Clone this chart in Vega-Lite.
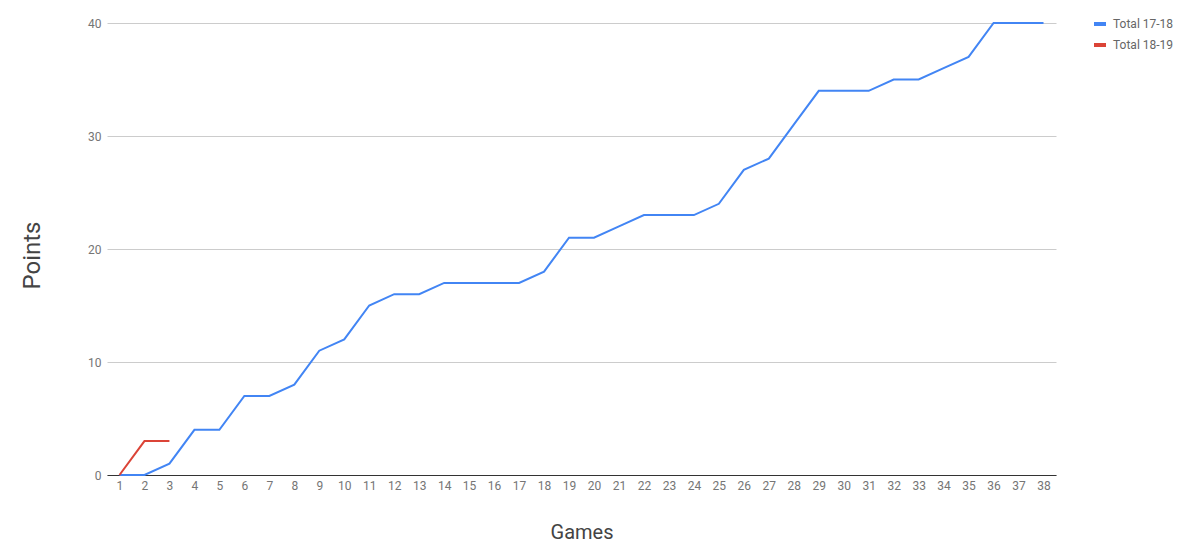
{
  "$schema": "https://vega.github.io/schema/vega-lite/v6.json",
  "width": 949,
  "height": 452,
  "autosize": {"type": "none"},
  "padding": {"left": 107, "top": 23, "right": 132, "bottom": 85},
  "background": "white",
  "config": {"font": "Roboto", "view": {"stroke": null}},
  "data": {"values": [
    {"game": 1, "points": 0, "series": "Total 17-18"},
    {"game": 2, "points": 0, "series": "Total 17-18"},
    {"game": 3, "points": 1, "series": "Total 17-18"},
    {"game": 4, "points": 4, "series": "Total 17-18"},
    {"game": 5, "points": 4, "series": "Total 17-18"},
    {"game": 6, "points": 7, "series": "Total 17-18"},
    {"game": 7, "points": 7, "series": "Total 17-18"},
    {"game": 8, "points": 8, "series": "Total 17-18"},
    {"game": 9, "points": 11, "series": "Total 17-18"},
    {"game": 10, "points": 12, "series": "Total 17-18"},
    {"game": 11, "points": 15, "series": "Total 17-18"},
    {"game": 12, "points": 16, "series": "Total 17-18"},
    {"game": 13, "points": 16, "series": "Total 17-18"},
    {"game": 14, "points": 17, "series": "Total 17-18"},
    {"game": 15, "points": 17, "series": "Total 17-18"},
    {"game": 16, "points": 17, "series": "Total 17-18"},
    {"game": 17, "points": 17, "series": "Total 17-18"},
    {"game": 18, "points": 18, "series": "Total 17-18"},
    {"game": 19, "points": 21, "series": "Total 17-18"},
    {"game": 20, "points": 21, "series": "Total 17-18"},
    {"game": 21, "points": 22, "series": "Total 17-18"},
    {"game": 22, "points": 23, "series": "Total 17-18"},
    {"game": 23, "points": 23, "series": "Total 17-18"},
    {"game": 24, "points": 23, "series": "Total 17-18"},
    {"game": 25, "points": 24, "series": "Total 17-18"},
    {"game": 26, "points": 27, "series": "Total 17-18"},
    {"game": 27, "points": 28, "series": "Total 17-18"},
    {"game": 28, "points": 31, "series": "Total 17-18"},
    {"game": 29, "points": 34, "series": "Total 17-18"},
    {"game": 30, "points": 34, "series": "Total 17-18"},
    {"game": 31, "points": 34, "series": "Total 17-18"},
    {"game": 32, "points": 35, "series": "Total 17-18"},
    {"game": 33, "points": 35, "series": "Total 17-18"},
    {"game": 34, "points": 36, "series": "Total 17-18"},
    {"game": 35, "points": 37, "series": "Total 17-18"},
    {"game": 36, "points": 40, "series": "Total 17-18"},
    {"game": 37, "points": 40, "series": "Total 17-18"},
    {"game": 38, "points": 40, "series": "Total 17-18"},
    {"game": 1, "points": 0, "series": "Total 18-19"},
    {"game": 2, "points": 3, "series": "Total 18-19"},
    {"game": 3, "points": 3, "series": "Total 18-19"}
  ]},
  "mark": {"type": "line", "strokeWidth": 2},
  "encoding": {
    "x": {
      "field": "game", "type": "ordinal",
      "scale": {"type": "point", "padding": 0.5},
      "axis": {
        "title": "Games", "titleFontSize": 20, "titleFontWeight": "normal", "titleColor": "#444",
        "titlePadding": 31, "labelAngle": 0, "labelFontSize": 12, "labelColor": "#757575",
        "labelPadding": 5, "ticks": false, "domainColor": "#333", "domainWidth": 1, "grid": false
      }
    },
    "y": {
      "field": "points", "type": "quantitative",
      "scale": {"domain": [0, 40], "nice": false},
      "axis": {
        "title": "Points", "titleFontSize": 24, "titleFontWeight": "normal", "titleColor": "#444",
        "titlePadding": 43, "titleY": 232, "values": [0, 10, 20, 30, 40], "labelFontSize": 12, "labelColor": "#757575",
        "labelPadding": 6, "ticks": false, "domain": false, "gridColor": "#ccc", "gridWidth": 1
      }
    },
    "color": {
      "field": "series", "type": "nominal",
      "scale": {"domain": ["Total 17-18", "Total 18-19"], "range": ["#4285F4", "#DB4437"]},
      "legend": {
        "title": null, "orient": "none", "legendX": 985, "legendY": -7,
        "symbolType": "stroke", "symbolStrokeWidth": 4, "symbolSize": 144,
        "labelFontSize": 12, "labelColor": "#666", "rowPadding": 5, "labelOffset": 5
      }
    }
  }
}
